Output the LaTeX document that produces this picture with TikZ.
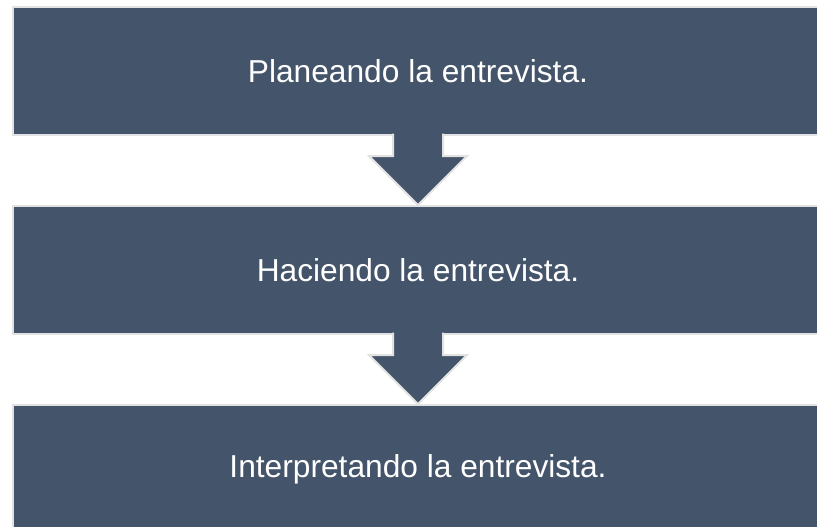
\documentclass[tikz,border=0pt]{standalone}
\usepackage{fontspec}
\setmainfont{Liberation Sans}
\usetikzlibrary{positioning, calc}
\definecolor{slateblue}{HTML}{44546A}
\definecolor{rimgray}{HTML}{E2E2E2}

\begin{document}
\begin{tikzpicture}[x=1pt, y=1pt, node distance=71pt,
        stage/.style={rectangle, fill=slateblue, draw=rimgray, line width=2.5pt, minimum width=810pt, minimum height=128pt, inner sep=0pt, outer sep=0pt, text=white, font=\fontsize{31.7}{38}\selectfont},
        blockarrow/.style={fill=slateblue, draw=rimgray, line width=2pt}]

        \useasboundingbox (0,0) rectangle (817,-527);
        \clip (0,0) rectangle (817,-527);

        % Nodes
        \node (plan) [stage] at (418,-71) {Planeando la entrevista.};
        \node (doing) [stage, below=of plan] {Haciendo la entrevista.};
        \node (interp) [stage, below=of doing] {Interpretando la entrevista.};

        % Arrows
        \foreach \a/\b in {plan/doing, doing/interp}
            \path[blockarrow] ($(\a.south)+(-25,1.3)$) -- ($(\a.south)+(-25,-21)$) -- ($(\a.south)+(-49,-21)$) -- ($(\b.north)+(0,1)$) -- ($(\a.south)+(49,-21)$) -- ($(\a.south)+(25,-21)$) -- ($(\a.south)+(25,1.3)$);

\end{tikzpicture}
\end{document}
